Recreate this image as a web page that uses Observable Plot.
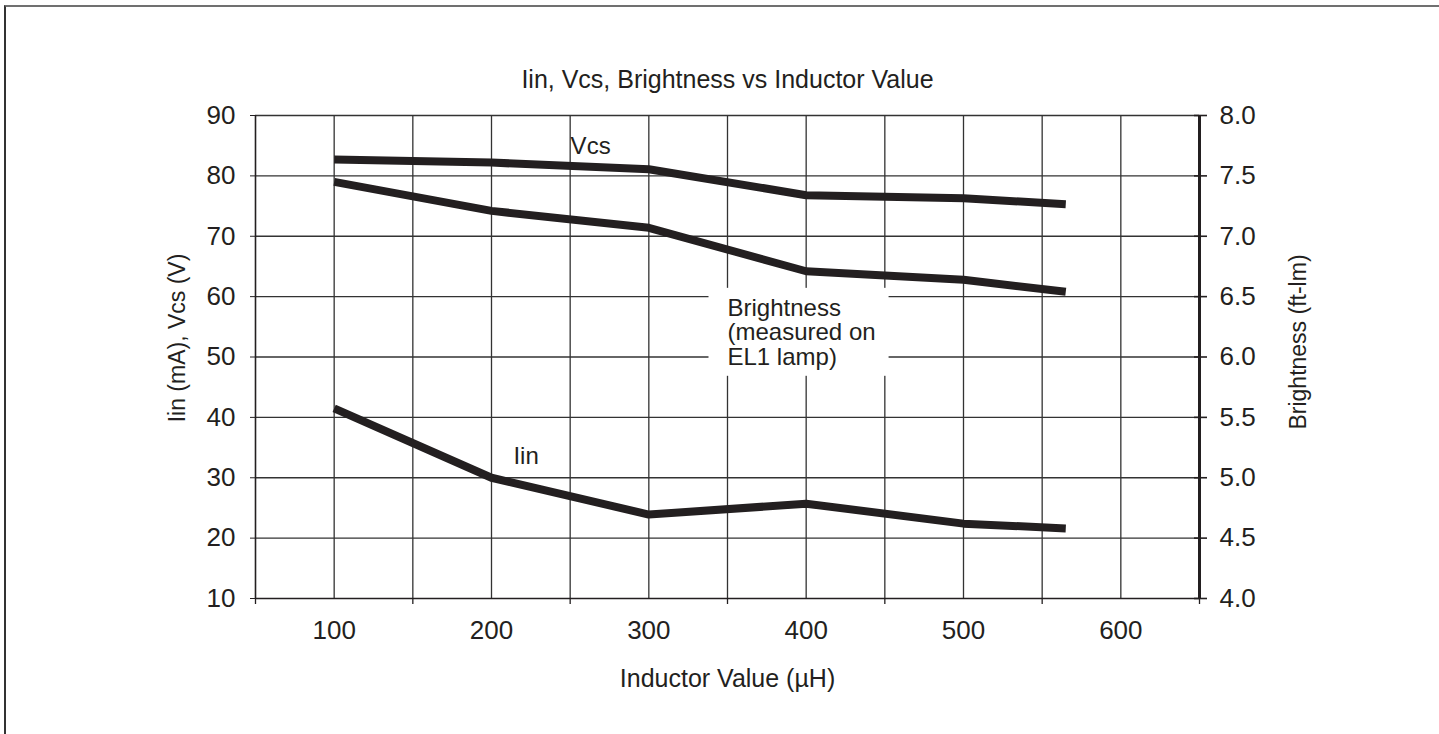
<!DOCTYPE html>
<html><head><meta charset="utf-8">
<script src="https://cdn.jsdelivr.net/npm/d3@7"></script>
<script src="https://cdn.jsdelivr.net/npm/@observablehq/plot@0.6"></script>
<style>
body{margin:0;background:#fff;}
#wrap{position:relative;width:1439px;height:734px;overflow:hidden;background:#fff;}
#frame{position:absolute;left:4px;top:5px;width:1600px;height:900px;border-top:2px solid #707070;border-left:2px solid #333;}
#chart{position:absolute;left:0;top:0;}
</style></head>
<body><div id="wrap"><div id="frame"></div><div id="chart"></div></div>
<script>
// Data
const inductance = [100, 200, 300, 400, 500, 565];          // µH
const vcs        = [82.7, 82.2, 81.1, 76.8, 76.3, 75.3];    // V (left axis)
const iin        = [41.5, 30.0, 23.9, 25.7, 22.4, 21.6];    // mA (left axis)
const brightness = [7.45, 7.21, 7.07, 6.71, 6.64, 6.54];    // ft-lm (right axis)

const leftTicks = [10, 20, 30, 40, 50, 60, 70, 80, 90];
const rightTickLabels = ["4.0", "4.5", "5.0", "5.5", "6.0", "6.5", "7.0", "7.5", "8.0"];
const xTickLabels = [100, 200, 300, 400, 500, 600];
const xMinorTicks = [50, 150, 250, 350, 450, 550, 650];
const xGrid = [100, 150, 200, 250, 300, 350, 400, 450, 500, 550, 600];

// right axis (4.0–8.0 ft-lm) shares the left scale (10–90)
const bToLeft = b => 10 + (b - 4) * 20;

const vcsData = inductance.map((x, i) => ({x, y: vcs[i]}));
const iinData = inductance.map((x, i) => ({x, y: iin[i]}));
const brData  = inductance.map((x, i) => ({x, y: bToLeft(brightness[i])}));

const seriesLabels = [
  {text: "Vcs", x: 263, y: 84.9},
  {text: "Iin", x: 222, y: 33.5}
];
const brightnessLabel = [{text: "Brightness\n(measured on\nEL1 lamp)", x: 350, y: 54.06}];

const ink = "#231f20";
const gridColor = "#333";

const chart = Plot.plot({
  width: 1439,
  height: 734,
  marginLeft: 255,
  marginRight: 240,
  marginTop: 115,
  marginBottom: 136,
  style: {fontFamily: "'Liberation Sans', Arial, sans-serif", fontSize: "26px", color: ink, background: "transparent"},
  x: {domain: [50, 650], axis: null},
  y: {domain: [10, 90], axis: null},
  marks: [
    Plot.gridX(xGrid, {stroke: gridColor, strokeOpacity: 1, strokeWidth: 1.3}),
    Plot.gridY(leftTicks.filter(d => d > 10), {stroke: gridColor, strokeOpacity: 1, strokeWidth: 1.3}),
    Plot.text(brightnessLabel, {x: "x", y: "y", text: "text", textAnchor: "start", lineAnchor: "middle",
      lineHeight: 1.02, fontSize: 24, fill: ink}),
    Plot.ruleX([50], {stroke: ink, strokeWidth: 1.6}),
    Plot.ruleY([10], {stroke: ink, strokeWidth: 1.6}),
    Plot.ruleX([650], {stroke: ink, strokeWidth: 3}),
    // left axis
    Plot.axisY(leftTicks, {anchor: "left", label: null, tickSize: 5, tickPadding: 15, fontSize: 26, stroke: ink, fill: ink}),
    // right axis (brightness)
    Plot.axisY(leftTicks, {anchor: "right", label: null, tickSize: 7, tickPadding: 13, fontSize: 26, stroke: ink, fill: ink,
      strokeWidth: 1.6, tickFormat: d => rightTickLabels[leftTicks.indexOf(d)]}),
    Plot.axisY(leftTicks, {anchor: "right", label: null, tickSize: -6, tickFormat: () => "", stroke: ink, strokeWidth: 1.6}),
    // bottom axis
    Plot.axisX(xMinorTicks, {anchor: "bottom", label: null, tickSize: 6, tickFormat: () => "", stroke: ink, strokeWidth: 1.3}),
    Plot.axisX(xTickLabels, {anchor: "bottom", label: null, tickSize: 0, tickPadding: 22, fontSize: 26, fill: ink}),
    // series
    Plot.line(vcsData, {x: "x", y: "y", stroke: ink, strokeWidth: 8, strokeLinecap: "butt", strokeLinejoin: "round"}),
    Plot.line(brData,  {x: "x", y: "y", stroke: ink, strokeWidth: 8, strokeLinecap: "butt", strokeLinejoin: "round"}),
    Plot.line(iinData, {x: "x", y: "y", stroke: ink, strokeWidth: 8, strokeLinecap: "butt", strokeLinejoin: "round"}),
    Plot.text(seriesLabels, {x: "x", y: "y", text: "text", textAnchor: "middle", lineAnchor: "middle", fontSize: 24, fill: ink}),
    // titles
    Plot.text(["Iin, Vcs, Brightness vs Inductor Value"], {frameAnchor: "top", textAnchor: "middle", dy: -36, lineAnchor: "middle", fontSize: 25, fill: ink}),
    Plot.text(["Inductor Value (\u00b5H)"], {frameAnchor: "bottom", textAnchor: "middle", dy: 71, lineAnchor: "top", fontSize: 25, fill: ink}),
    Plot.text(["Iin (mA), Vcs (V)"], {frameAnchor: "left", textAnchor: "middle", dx: -78, dy: -19, rotate: -90, lineAnchor: "middle", fontSize: 23, fill: ink}),
    Plot.text(["Brightness (ft-lm)"], {frameAnchor: "right", textAnchor: "middle", dx: 99, dy: -15, rotate: -90, lineAnchor: "middle", fontSize: 23, fill: ink})
  ]
});

document.getElementById("chart").append(chart);

// white box behind the brightness annotation (same coordinate system as the text)
const labelText = Array.from(chart.querySelectorAll("text")).find(t => t.textContent.includes("measured"));
if (labelText) {
  const bb = labelText.getBBox();
  const rect = document.createElementNS("http://www.w3.org/2000/svg", "rect");
  rect.setAttribute("x", bb.x - 19);
  rect.setAttribute("y", bb.y - 6);
  rect.setAttribute("width", bb.width + 32);
  rect.setAttribute("height", bb.height + 12);
  rect.setAttribute("fill", "#fff");
  rect.setAttribute("stroke", "none");
  const tr = labelText.getAttribute("transform");
  if (tr) rect.setAttribute("transform", tr);
  labelText.parentNode.insertBefore(rect, labelText);
}
</script>
</body></html>
